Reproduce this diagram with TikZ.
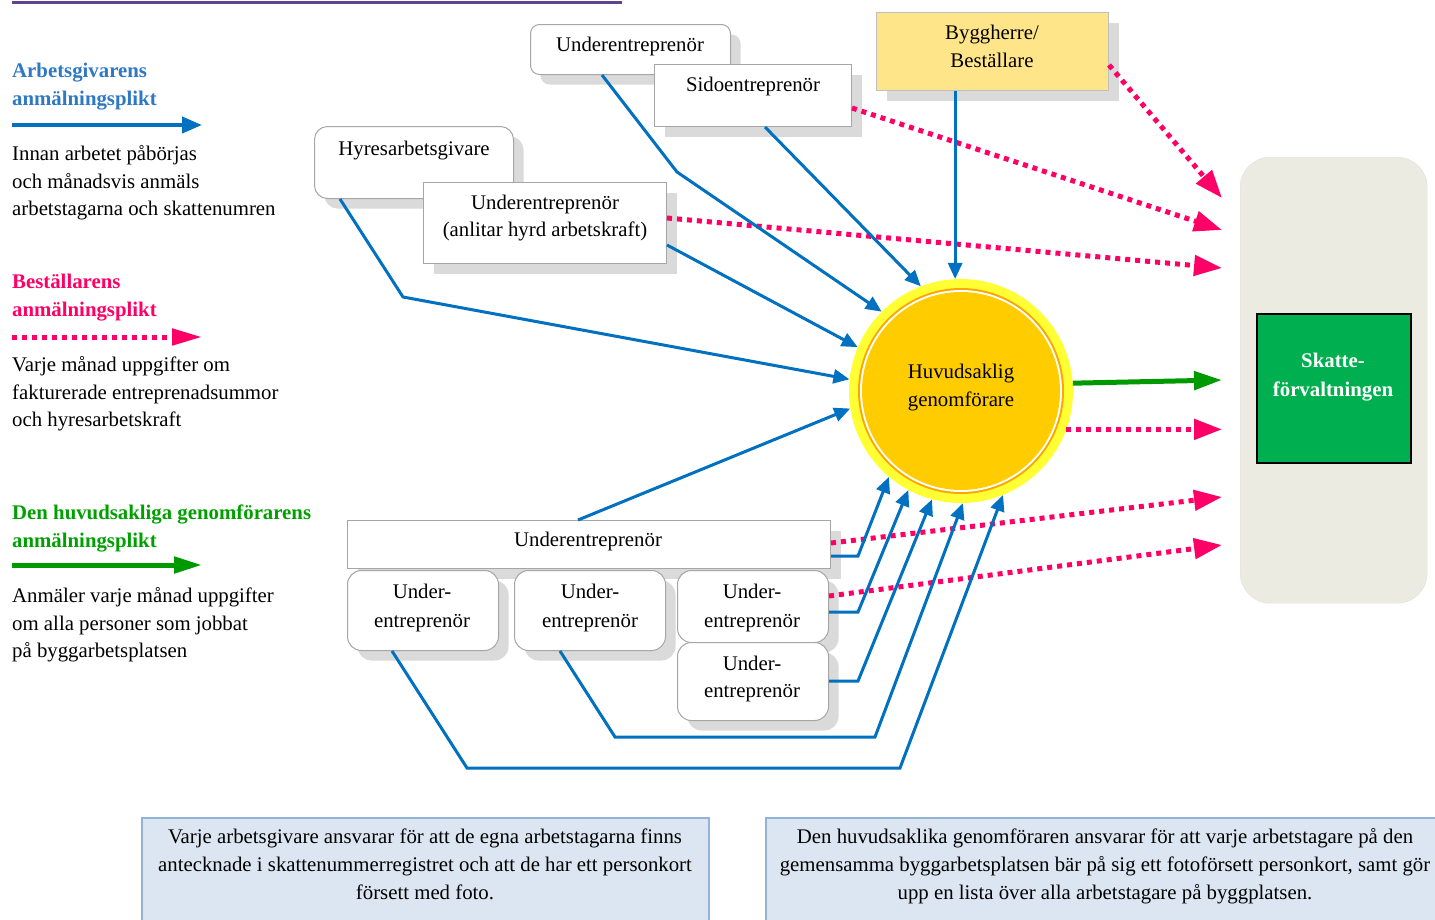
\documentclass[tikz,border=0pt]{standalone}
\usepackage{fontspec}
\setmainfont{Liberation Serif}
\usetikzlibrary{arrows.meta,shadows}
\definecolor{myblue}{HTML}{0070C0}
\definecolor{headblue}{HTML}{2E78C4}
\definecolor{mypink}{HTML}{FF0066}
\definecolor{mygreen}{HTML}{009900}
\definecolor{headgreen}{HTML}{00A000}
\definecolor{boxgray}{HTML}{A6A6A6}
\definecolor{shadowgray}{HTML}{DADADA}
\definecolor{byggyellow}{HTML}{FFE58A}
\definecolor{panelbeige}{HTML}{ECEBE1}
\definecolor{skattegreen}{HTML}{00B050}
\definecolor{capfill}{HTML}{DCE6F2}
\definecolor{capdraw}{HTML}{95B3D7}
\definecolor{ringyellow}{HTML}{FFFF33}
\definecolor{ringorange}{HTML}{FFA500}
\definecolor{gold}{HTML}{FFCC00}
\definecolor{titlepurple}{HTML}{5E4391}
\tikzset{
  basetext/.style={font=\fontsize{20.8}{25}\selectfont, inner sep=0pt, text height=19pt, text depth=4pt},
  lbl/.style={basetext, anchor=center},
  leg/.style={basetext, anchor=west},
  shadowed/.style={drop shadow={shadow xshift=10pt, shadow yshift=-10pt, fill=shadowgray, opacity=1}},
  wbox/.style={draw=boxgray, fill=white, line width=1pt, shadowed, inner sep=0pt, anchor=north west},
  rbox/.style={wbox, rounded corners=11pt},
  blueline/.style={draw=myblue, line width=3pt, -{Triangle[length=16pt,width=14pt]}},
  pinkline/.style={draw=mypink, line width=5pt, dash pattern=on 5pt off 5pt, -{Triangle[length=28pt,width=20pt]}},
  greenline/.style={draw=mygreen, line width=5pt, -{Triangle[length=28pt,width=18pt]}},
}
\begin{document}
\begin{tikzpicture}[x=1pt,y=-1pt]
\useasboundingbox (0,0) rectangle (1435,919);
\fill[white] (0,0) rectangle (1435,919);
% title remnant
\draw[titlepurple, line width=3pt] (12,2.5) -- (622,2.5);

% ---------- legend ----------
\node[leg, text=headblue] (h1a) at (12,70) {\textbf{Arbetsgivarens}};
\node[leg, text=headblue] (h1b) at (12,98) {\textbf{anmälningsplikt}};
\coordinate (la1) at (12,125); \coordinate (la2) at (202,125);
\draw[draw=myblue, line width=4pt, -{Triangle[length=20pt,width=16pt]}] (la1) -- (la2);
\node[leg] (t1a) at (12,153) {Innan arbetet påbörjas};
\node[leg] (t1b) at (12,181) {och månadsvis anmäls};
\node[leg] (t1c) at (12,208) {arbetstagarna och skattenumren};

\node[leg, text=mypink] (h2a) at (12,281) {\textbf{Beställarens}};
\node[leg, text=mypink] (h2b) at (12,309) {\textbf{anmälningsplikt}};
\coordinate (lb1) at (12,337); \coordinate (lb2) at (202,337);
\draw[draw=mypink, line width=5pt, dash pattern=on 5pt off 5pt, -{Triangle[length=30pt,width=16pt]}] (lb1) -- (lb2);
\node[leg] (t2a) at (12,364) {Varje månad uppgifter om};
\node[leg] (t2b) at (12,392) {fakturerade entreprenadsummor};
\node[leg] (t2c) at (12,419) {och hyresarbetskraft};

\node[leg, text=headgreen] (h3a) at (12,512) {\textbf{Den huvudsakliga genomförarens}};
\node[leg, text=headgreen] (h3b) at (12,540) {\textbf{anmälningsplikt}};
\coordinate (lc1) at (12,565); \coordinate (lc2) at (202,565);
\draw[draw=mygreen, line width=5pt, -{Triangle[length=28pt,width=16pt]}] (lc1) -- (lc2);
\node[leg] (t3a) at (12,595) {Anmäler varje månad uppgifter};
\node[leg] (t3b) at (12,623) {om alla personer som jobbat};
\node[leg] (t3c) at (12,650) {på byggarbetsplatsen};

% ---------- right panel ----------
\node[draw=black!12, fill=panelbeige, rounded corners=30pt, anchor=north west, minimum width=187pt, minimum height=446pt, inner sep=0pt] (panel) at (1240,157) {};
\node[draw=black, line width=1.5pt, fill=skattegreen, anchor=north west, minimum width=154pt, minimum height=149pt, inner sep=0pt] (skatt) at (1256,313) {};
\node[lbl, text=white] (sk1) at (1333,360) {\textbf{Skatte-}};
\node[lbl, text=white] (sk2) at (1333,389) {\textbf{förvaltningen}};

% ---------- captions ----------
\node[draw=capdraw, line width=1.5pt, fill=capfill, anchor=north west, minimum width=567pt, minimum height=120pt, inner sep=0pt] (capL) at (141,817) {};
\node[lbl] (cl1) at (425,836) {Varje arbetsgivare ansvarar för att de egna arbetstagarna finns};
\node[lbl] (cl2) at (425,864) {antecknade i skattenummerregistret och att de har ett personkort};
\node[lbl] (cl3) at (425,892) {försett med foto.};
\node[draw=capdraw, line width=1.5pt, fill=capfill, anchor=north west, minimum width=690pt, minimum height=120pt, inner sep=0pt] (capR) at (765,817) {};
\node[lbl] (cr1) at (1105,836) {Den huvudsaklika genomföraren ansvarar för att varje arbetstagare på den};
\node[lbl] (cr2) at (1105,864) {gemensamma byggarbetsplatsen bär på sig ett fotoförsett personkort, samt gör};
\node[lbl] (cr3) at (1105,892) {upp en lista över alla arbetstagare på byggplatsen.};

% ---------- top boxes ----------
\node[rbox, rounded corners=9pt, minimum width=200pt, minimum height=50pt] (topU) at (530,24) {};
\node[lbl] (topUt) at (630,44) {Underentreprenör};
\node[wbox, minimum width=197pt, minimum height=62pt] (sido) at (654,64) {};
\node[lbl] (sidot) at (753,84) {Sidoentreprenör};
\node[wbox, fill=byggyellow, draw=black!25, minimum width=232pt, minimum height=78pt] (bygg) at (876,12) {};
\node[lbl] (byggt1) at (992,32) {Byggherre/};
\node[lbl] (byggt2) at (992,60) {Beställare};
\node[rbox, rounded corners=13pt, minimum width=199pt, minimum height=72pt] (hyres) at (314,126) {};
\node[lbl] (hyrest) at (414,148) {Hyresarbetsgivare};
\node[wbox, minimum width=243pt, minimum height=81pt] (anlit) at (423,182) {};
\node[lbl] (anlitt1) at (545,202) {Underentreprenör};
\node[lbl] (anlitt2) at (545,229) {(anlitar hyrd arbetskraft)};

% ---------- bottom boxes ----------
\node[wbox, minimum width=483pt, minimum height=48pt] (bigU) at (347,520) {};
\node[lbl] (bigUt) at (588,539) {Underentreprenör};
\node[rbox, rounded corners=14pt, minimum width=151pt, minimum height=80pt] (b1) at (347,570) {};
\node[lbl] (b1a) at (422,591) {Under-};
\node[lbl] (b1b) at (422,620) {entreprenör};
\node[rbox, rounded corners=14pt, minimum width=151pt, minimum height=80pt] (b2) at (514,570) {};
\node[lbl] (b2a) at (590,591) {Under-};
\node[lbl] (b2b) at (590,620) {entreprenör};
\node[rbox, rounded corners=14pt, minimum width=151pt, minimum height=72pt] (b3) at (677,570) {};
\node[lbl] (b3a) at (752,591) {Under-};
\node[lbl] (b3b) at (752,620) {entreprenör};
\node[rbox, rounded corners=14pt, minimum width=151pt, minimum height=78pt] (b4) at (677,642) {};
\node[lbl] (b4a) at (752,663) {Under-};
\node[lbl] (b4b) at (752,690) {entreprenör};

% ---------- circle ----------
\node[circle, fill=ringyellow, minimum size=224pt, inner sep=0pt] (circ) at (961,391) {};
\fill[ringorange] (circ.center) circle (103);
\fill[white] (circ.center) circle (101);
\fill[gold] (circ.center) circle (99);
\node[lbl] (circt1) at (961,371) {Huvudsaklig};
\node[lbl] (circt2) at (961,399) {genomförare};

% ---------- coordinates ----------
\coordinate (rx) at (1222,0);
\coordinate (p1) at (1222,198);
\coordinate (p2) at (1222,230);
\coordinate (p3) at (1222,268);
\coordinate (p4) at (1222,497);
\coordinate (p5) at (1222,545);
\coordinate (g1) at (1222,380);

% ---------- pink dotted ----------
\draw[pinkline] (bygg.east |- 0,65) -- (p1);
\draw[pinkline] (sido.east |- 0,108) -- (p2);
\draw[pinkline] (anlit.east |- 0,218) -- (p3);
\draw[pinkline] (circ.-20) -- (circ.-20 -| rx);
\draw[pinkline] (bigU.east |- 0,543) -- (p4);
\draw[pinkline] (b3.east |- 0,596) -- (p5);

% ---------- green ----------
\draw[greenline] (circ.4) -- (g1);

% ---------- blue ----------
\coordinate (k1) at (677,172);
\coordinate (k2) at (403,297);
\draw[blueline] (topU.south -| 602,0) -- (k1) -- (circ.135);
\draw[blueline] (sido.south -| 765,0) -- (circ.111);
\draw[blueline] (bygg.south -| circ.93) -- (circ.93);
\draw[blueline] (anlit.east |- 0,245) -- (circ.157);
\draw[blueline] (hyres.south -| 340,0) -- (k2) -- (circ.174);
\draw[blueline] (bigU.north -| 578,0) -- (circ.189);
\coordinate (e1) at (858,556);
\coordinate (e2) at (858,612);
\coordinate (e3) at (858,681);
\draw[blueline] (bigU.east |- e1) -- (e1) -- (circ.230);
\draw[blueline] (b3.east |- e2) -- (e2) -- (circ.242);
\draw[blueline] (b4.east |- e3) -- (e3) -- (circ.255);
\coordinate (f1) at (615,737);
\coordinate (f2) at (875,737);
\draw[blueline] (b2.south -| 560,0) -- (f1) -- (f2) -- (circ.271);
\coordinate (j1) at (467,768);
\coordinate (j2) at (900,768);
\draw[blueline] (b1.south -| 392,0) -- (j1) -- (j2) -- (circ.292);
\end{tikzpicture}
\end{document}
